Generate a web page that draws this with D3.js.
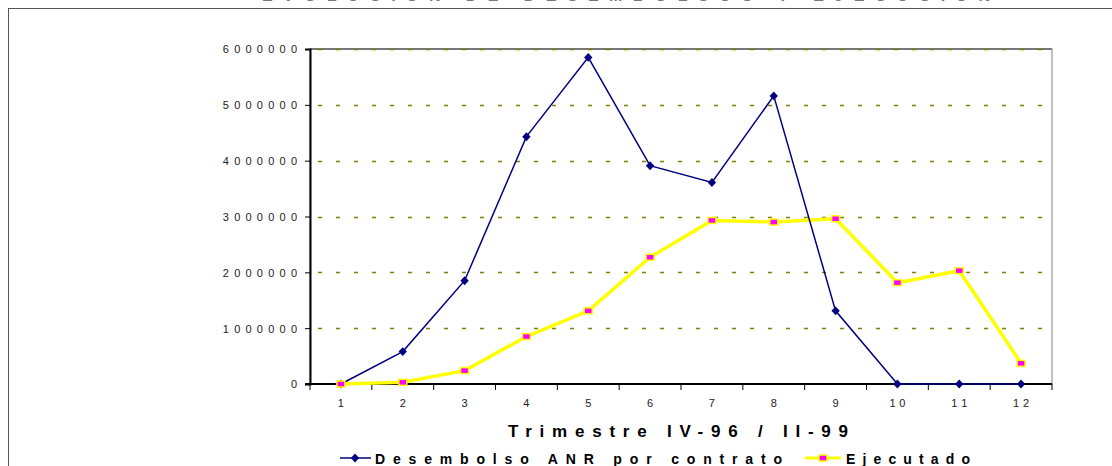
<!DOCTYPE html>
<html>
<head>
<meta charset="utf-8">
<script src="https://cdn.jsdelivr.net/npm/d3@7"></script>
<style>
  body { margin: 0; background: #fff; }
  text { font-family: "Liberation Sans", Arial, sans-serif; }
</style>
</head>
<body>
<div id="svgRoot"></div>
<script>
// chart data
const trimestres = ["1", "2", "3", "4", "5", "6", "7", "8", "9", "10", "11", "12"];
const desembolso = [0, 580000, 1850000, 4430000, 5850000, 3910000, 3610000, 5160000, 1310000, 0, 0, 0];
const ejecutado = [0, 30000, 240000, 850000, 1310000, 2270000, 2930000, 2900000, 2960000, 1815000, 2030000, 370000];
const yTicks = [0, 1000000, 2000000, 3000000, 4000000, 5000000, 6000000];
const seriesNames = ["Desembolso ANR por contrato", "Ejecutado"];
const xTitle = "Trimestre IV-96 / II-99";

const W = 1112, H = 466;
var margin = { top: 49, right: 60, bottom: 82, left: 310 },
  width = 1052 - margin.left,
  height = 384 - margin.top;

const root = d3.select("#svgRoot").append("svg")
  .attr("width", W).attr("height", H);

// outer frame (cut off at right / bottom)
root.append("rect")
  .attr("x", 8.5).attr("y", 8.5)
  .attr("width", W).attr("height", H)
  .attr("fill", "none").attr("stroke", "#555").attr("stroke-width", 1);

// title, mostly above the visible area in the original
root.append("text")
  .attr("x", 262).attr("y", 1)
  .attr("textLength", 728).attr("lengthAdjust", "spacing")
  .style("font-size", "16px").style("font-weight", "bold").attr("fill", "#777")
  .text("EVOLUCION DE DESEMBOLSOS Y EJECUCION");

var svg = root.append("g")
  .attr("transform", "translate(" + margin.left + "," + margin.top + ")");

var x = d3.scaleBand().domain(trimestres).range([0, width]).padding(0);
var y = d3.scaleLinear().domain([0, 6000000]).range([height, 0]);
const cx = d => x(d) + x.bandwidth() / 2;

// plot frame and gridlines
svg.append("rect")
  .attr("x", 0).attr("y", 0).attr("width", width).attr("height", height)
  .attr("fill", "none").attr("stroke", "#808080").attr("stroke-width", 1);
svg.append("line")
  .attr("x1", 0).attr("x2", width).attr("y1", 0).attr("y2", 0)
  .attr("stroke", "#777").attr("stroke-width", 2);
svg.selectAll("gridLines")
  .data(yTicks.slice(1))
  .enter().append("line")
  .attr("x1", 8).attr("x2", width - 10)
  .attr("y1", d => Math.round(y(d)) + 0.5).attr("y2", d => Math.round(y(d)) + 0.5)
  .attr("stroke", "#808000").attr("stroke-width", 1.3)
  .attr("stroke-dasharray", "4,14");

// y axis
var yAxis = svg.append("g")
  .call(d3.axisLeft(y).tickValues(yTicks).tickSize(5).tickPadding(8).tickFormat(d3.format("d")));
yAxis.select(".domain").attr("stroke", "#000").attr("stroke-width", 2);
yAxis.selectAll("line").attr("stroke", "#000");
yAxis.selectAll("text")
  .style("font-size", "11px").attr("fill", "#222")
  .attr("dy", "0.35em")
  .each(function (d) {
    const s = String(d);
    if (s.length > 1) d3.select(this).attr("textLength", s.length * 10.6).attr("lengthAdjust", "spacing");
  });

// x axis with ticks at the category edges
var edges = trimestres.map(d => x(d)).concat([width]);
svg.append("line")
  .attr("x1", -5).attr("x2", width).attr("y1", height).attr("y2", height)
  .attr("stroke", "#000").attr("stroke-width", 2);
svg.selectAll("xTicks")
  .data(edges).enter().append("line")
  .attr("x1", d => d).attr("x2", d => d)
  .attr("y1", height).attr("y2", height + 6)
  .attr("stroke", "#000").attr("stroke-width", 1);
svg.selectAll("xLabels")
  .data(trimestres).enter().append("text")
  .attr("x", d => cx(d)).attr("y", height + 23)
  .attr("text-anchor", "middle")
  .style("font-size", "11px").attr("fill", "#222")
  .each(function (d) {
    if (d.length > 1) d3.select(this).attr("textLength", 16).attr("lengthAdjust", "spacing");
  })
  .text(d => d);

// lines
var line = d3.line()
  .x((d, i) => cx(trimestres[i]))
  .y(d => y(d));

svg.append("path")
  .attr("d", line(ejecutado))
  .attr("fill", "none").attr("stroke", "#ffff00").attr("stroke-width", 3.5)
  .attr("stroke-linejoin", "round");

svg.append("path")
  .attr("d", line(desembolso))
  .attr("fill", "none").attr("stroke", "#000080").attr("stroke-width", 1.5);

// markers
svg.selectAll("blueDots")
  .data(desembolso).enter().append("path")
  .attr("d", d3.symbol(d3.symbolDiamond, 36))
  .attr("transform", (d, i) => "translate(" + cx(trimestres[i]) + "," + y(d) + ") scale(1.3,0.8)")
  .attr("fill", "#000080");

svg.selectAll("yellowDots")
  .data(ejecutado).enter().append("rect")
  .attr("x", (d, i) => cx(trimestres[i]) - 4)
  .attr("y", d => y(d) - 3)
  .attr("width", 8).attr("height", 6)
  .attr("fill", "#ff00ff").attr("stroke", "#ffff00").attr("stroke-width", 1.5);

// x title
root.append("text")
  .attr("x", 508).attr("y", 437)
  .attr("textLength", 340).attr("lengthAdjust", "spacing")
  .style("font-size", "17px").style("font-weight", "bold").attr("fill", "#000")
  .text(xTitle);

// legend
var leg = root.append("g");
leg.append("line").attr("x1", 340).attr("x2", 371).attr("y1", 458).attr("y2", 458)
  .attr("stroke", "#000080").attr("stroke-width", 1.5);
leg.append("path").attr("d", d3.symbol(d3.symbolDiamond, 36))
  .attr("transform", "translate(355,458) scale(1.3,0.8)").attr("fill", "#000080");
leg.append("text").attr("x", 375).attr("y", 464)
  .attr("textLength", 407).attr("lengthAdjust", "spacing")
  .style("font-size", "14px").style("font-weight", "bold")
  .text(seriesNames[0]);

leg.append("line").attr("x1", 805).attr("x2", 841).attr("y1", 458).attr("y2", 458)
  .attr("stroke", "#ffff00").attr("stroke-width", 3);
leg.append("rect").attr("x", 819).attr("y", 455).attr("width", 8).attr("height", 6)
  .attr("fill", "#ff00ff").attr("stroke", "#ffff00").attr("stroke-width", 1.5);
leg.append("text").attr("x", 846).attr("y", 464)
  .attr("textLength", 124).attr("lengthAdjust", "spacing")
  .style("font-size", "14px").style("font-weight", "bold")
  .text(seriesNames[1]);
</script>
</body>
</html>
